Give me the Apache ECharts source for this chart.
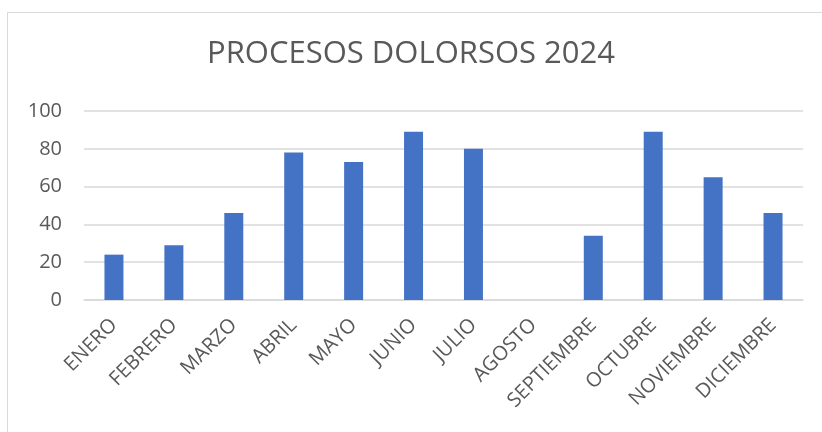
<!DOCTYPE html>
<html><head><meta charset="utf-8">
<script src="https://cdn.jsdelivr.net/npm/echarts@6/dist/echarts.min.js"></script>
<style>html,body{margin:0;padding:0;background:#fff}#c{width:822px;height:432px}</style>
</head><body><div id="c"></div>
<script>
const categories = ['ENERO','FEBRERO','MARZO','ABRIL','MAYO','JUNIO','JULIO','AGOSTO','SEPTIEMBRE','OCTUBRE','NOVIEMBRE','DICIEMBRE'];
const values = [24, 29, 46, 78, 73, 89, 80, null, 34, 89, 65, 46];
const titleText = 'PROCESOS DOLORSOS 2024';

const chart = echarts.init(document.getElementById('c'));
chart.setOption({
  animation: false,
  backgroundColor: '#fff',
  graphic: [{
    type: 'rect', shape: {x: 7.5, y: 12.5, width: 830, height: 440},
    style: {fill: 'none', stroke: '#d9d9d9', lineWidth: 1}
  }],
  title: {
    text: titleText, left: 'center', top: 39, padding: 0,
    textStyle: {fontFamily: 'Open Sans', fontWeight: 'normal', fontSize: 31, color: '#595959'}
  },
  grid: {left: 84, right: 19, top: 111, bottom: 132},
  xAxis: {
    type: 'category', data: categories,
    axisLine: {show: true, lineStyle: {color: '#d9d9d9', width: 1.5}},
    axisTick: {show: false},
    axisLabel: {rotate: 45, interval: 0, fontFamily: 'Open Sans', fontSize: 20, color: '#595959', margin: 22}
  },
  yAxis: {
    type: 'value', min: 0, max: 100, interval: 20,
    axisLine: {show: false}, axisTick: {show: false},
    axisLabel: {fontFamily: 'Open Sans', fontSize: 20, color: '#595959', margin: 22},
    splitLine: {lineStyle: {color: '#d9d9d9', width: 1.5}}
  },
  series: [{
    type: 'bar', data: values, barWidth: 19,
    itemStyle: {color: '#4472C4'}
  }]
});
</script></body></html>
